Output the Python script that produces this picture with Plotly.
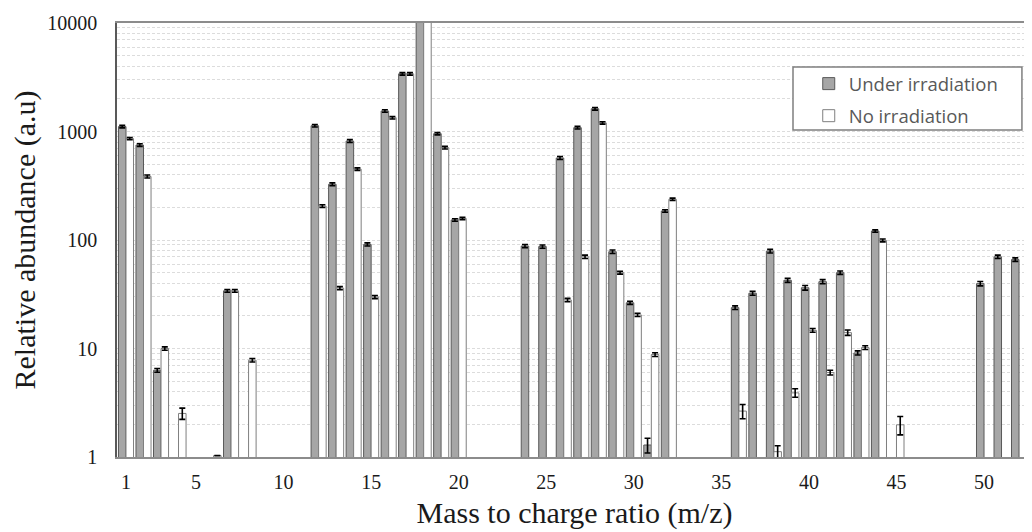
import plotly.graph_objects as go

# m/z categories present in the chart
mz = [1, 2, 3, 4, 6, 7, 8, 12, 13, 14, 15, 16, 17, 18, 19, 20, 24, 25, 26, 27, 28,
      29, 30, 31, 32, 36, 37, 38, 39, 40, 41, 42, 43, 44, 45, 50, 51, 52, 53]

under = [1110, 750, 6.3, None, None, 34, None, 1130, 326, 817, 91, 1545, 3400, 12000,
         955, 153, 88, 87, 570, 1085, 1620, 78, 26.4, 1.29, 185, 23.8, 32.3, 79, 42.5,
         36.3, 41.3, 50, 9.1, 121, None, 39.6, 70, 66, 1.06]
under_err = [30, 20, 0.25, 0, 0, 1, 0, 30, 10, 25, 3, 40, 90, 0,
             25, 4, 3, 3, 18, 30, 45, 3, 0.9, 0.2, 5, 0.9, 1.3, 3, 1.8,
             1.8, 1.8, 1.8, 0.4, 3, 0, 1.8, 2.5, 2.5, 0.07]

noirr = [860, 385, 10, 2.52, 1.03, 34, 7.8, 205, 36, 450, 29.8, 1340, 3400, 12000,
         710, 158, None, None, 28, 70, 1200, 50, 20.4, 8.8, 237, 2.65, None, 1.12, 3.9,
         14.7, 6.0, 14, 10.2, 99, 1.98, None, None, None, None]
noirr_err = [20, 12, 0.35, 0.3, 0, 1, 0.3, 6, 1.2, 12, 1, 35, 90, 0,
             20, 4, 0, 0, 1, 2.5, 30, 1.5, 0.7, 0.35, 6, 0.4, 0, 0.15, 0.35,
             0.6, 0.3, 0.8, 0.4, 3, 0.38, 0, 0, 0, 0]

x_ticks = [1, 5, 10, 15, 20, 25, 30, 35, 40, 45, 50]
y_ticks = [1, 10, 100, 1000, 10000]
y_ticktext = ["1", "10", "100", "1000", "10000"]

serif = "Liberation Serif, Times New Roman, serif"

fig = go.Figure()
fig.add_trace(go.Bar(
    x=mz, y=under, name="Under irradiation", legendgroup="a",
    marker=dict(color="#a6a6a6", line=dict(color="#595959", width=1)),
    error_y=dict(type="data", array=under_err, color="#000000", thickness=1.6, width=3),
))
fig.add_trace(go.Bar(
    x=mz, y=noirr, name="No irradiation", legendgroup="b",
    marker=dict(color="#ffffff", line=dict(color="#7f7f7f", width=1)),
    error_y=dict(type="data", array=noirr_err, color="#000000", thickness=1.6, width=3),
))

minor_vals = [m * 10 ** k for k in range(4) for m in range(2, 10)]

fig.update_layout(
    width=1024, height=524,
    margin=dict(l=109, r=0, t=15, b=75),
    paper_bgcolor="white", plot_bgcolor="white",
    barmode="group", bargap=0.14, bargroupgap=0,
    showlegend=True,
    legend=dict(x=0.756, y=0.903, xanchor="left", yanchor="top",
                bgcolor="rgba(0,0,0,0)", borderwidth=0,
                font=dict(family="Open Sans, sans-serif", size=18.5, color="#595959"),
                tracegroupgap=5, traceorder="grouped"),
    xaxis=dict(range=[0.486, 52.74], tickmode="array", tickvals=x_ticks,
               showgrid=False, zeroline=False, ticks="",
               showline=True, linecolor="#8c8c8c", linewidth=2, mirror=True,
               ticklabelstandoff=6,
               tickfont=dict(family=serif, size=20, color="#1a1a1a"),
               title=dict(text="Mass to charge ratio (m/z)", standoff=10,
                          font=dict(family=serif, size=30, color="#1a1a1a"))),
    yaxis=dict(type="log", range=[0, 4], tickmode="array", tickvals=y_ticks,
               ticktext=y_ticktext, ticks="",
               showgrid=True, gridcolor="#dcdcdc", gridwidth=1, griddash="3px,2px",
               minor=dict(tickvals=minor_vals, showgrid=True, gridcolor="#dcdcdc",
                          gridwidth=1, griddash="3px,2px", ticks=""),
               showline=True, linecolor="#595959", linewidth=1.5, mirror=False,
               zeroline=False, ticklabelstandoff=14,
               tickfont=dict(family=serif, size=20, color="#1a1a1a"),
               title=dict(text="Relative abundance (a.u)", standoff=10,
                          font=dict(family=serif, size=30, color="#1a1a1a"))),
    shapes=[dict(type="rect", xref="paper", yref="paper",
                 x0=0.7388, x1=0.989, y0=0.7535, y1=0.8986,
                 line=dict(color="#7f7f7f", width=1.5), fillcolor="white",
                 layer="above")],
)

fig.write_html("out.html")
